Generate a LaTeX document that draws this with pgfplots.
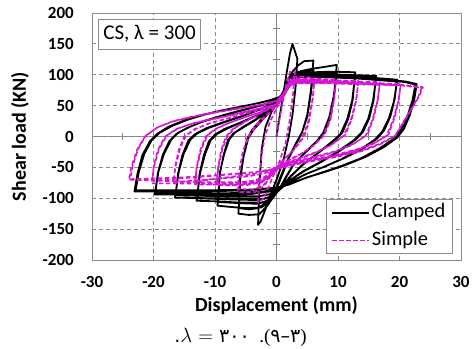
\documentclass[border=0pt]{standalone}
\usepackage{fontspec}
\usepackage{pgfplots}
\pgfplotsset{compat=1.18}
\setmainfont{Carlito}
\newfontfamily\arabicfont[Script=Arabic]{DejaVu Sans}
\newfontfamily\capserif{Liberation Serif}
\TeXXeTstate=1
\definecolor{simplemag}{RGB}{215,20,215}
\definecolor{gridgray}{RGB}{140,140,140}
\definecolor{axgray}{RGB}{128,128,128}
\begin{document}
\begin{tikzpicture}
\useasboundingbox (-92bp,-89bp) rectangle (380bp,260bp);
% central axis lines with cross ticks
\begin{axis}[at={(0,0)}, anchor=south west, width=369bp, height=247bp, scale only axis,
  xmin=-30, xmax=30, ymin=-200, ymax=200,
  axis lines=middle, axis line style={-, draw=axgray, line width=0.9bp},
  xtick={-25,-20,...,25}, ytick={-175,-150,...,175},
  xticklabels={}, yticklabels={},
  tick align=center, major tick length=7bp,
  tick style={draw=axgray, line width=0.9bp}]
\end{axis}
\begin{axis}[at={(0,0)}, anchor=south west, width=369bp, height=247bp, scale only axis,
  xmin=-30, xmax=30, ymin=-200, ymax=200,
  xtick={-30,-20,...,30}, ytick={-200,-150,...,200},
  grid=major, major grid style={draw=gridgray, dash pattern=on 4bp off 3bp, line width=0.8bp},
  axis line style={draw=gridgray, line width=0.9bp},
  major tick length=0pt,
  /pgf/number format/assume math mode=true,
  ticklabel style={font=\bfseries\fontsize{17bp}{17bp}\selectfont},
  xticklabel style={anchor=base, yshift=-27bp},
  yticklabel style={anchor=east, inner sep=0pt, xshift=-18bp},
  xlabel={Displacement (mm)}, ylabel={Shear load (KN)},
  label style={font=\bfseries\fontsize{20bp}{20bp}\selectfont},
  xlabel style={at={(axis description cs:0.5,-0.2105)}, anchor=base},
  ylabel style={at={(axis description cs:-0.1951,0.5)}, anchor=center},
  legend cell align=left,
  legend image code/.code={\draw[#1] (0bp,0bp) -- (37bp,0bp);},
  legend style={at={(axis description cs:0.978,0.024)}, anchor=south east,
    draw=gridgray, line width=0.8bp, fill=white,
    font=\fontsize{20.5bp}{20.5bp}\selectfont,
    inner xsep=5bp, inner ysep=2bp, row sep=6bp,
    nodes={inner sep=2bp, text height=14bp, text depth=4bp}},
]
\addplot[black, line width=1.8bp, line join=round] coordinates {
(0,0) (0.8,50) (1.6,100) (2.2,135) (2.6,150) (3.0,138) (3.4,126)
(3.1,80) (2.6,35) (2,0) (1.2,-35) (0.2,-65) (-0.8,-90) (-1.8,-118) (-2.6,-138) (-3,-143)
(-2.8,-80) (-2.4,-20) (-1.8,15) (-0.8,40) (0.3,58) (1.2,75) (2,95) (2.6,105) (3.5,115) (4.5,122) (6,123)
(5.6,75) (5,35) (4.2,8) (3.3,-10) (2,-35) (1,-60) (0,-85) (-1.3,-110) (-2.8,-126) (-4.5,-127) (-6.2,-125)
(-5.9,-65) (-5.3,-30) (-4.6,-3) (-3.8,10) (-2.3,27) (-0.8,43) (0.2,54) (1.1,68) (1.9,86) (2.6,98) (4,104) (6,108)
(5.6,70) (5,32) (4.1,5) (3.1,-12) (1.8,-38) (0.8,-62) (-0.2,-86) (-1.5,-106) (-3,-116) (-4.5,-118) (-6.1,-116)
(-5.9,-70) (-5.4,-35) (-4.8,-5) (-4,10) (-2.5,28) (-1,45) (0,56) (1,70) (1.8,88) (2.5,100) (4,106) (6,110) (8,113) (9.8,116)
(9.4,70) (8.8,35) (7.9,8) (6.8,-6) (4.8,-25) (2.8,-45) (1.8,-62) (0.5,-85) (-1,-105) (-2.5,-115) (-5,-116) (-7.5,-114) (-9.6,-112)
(-9.2,-58) (-8.5,-28) (-7.7,-5) (-6.8,6) (-5.2,16) (-3.2,28) (-1.2,43) (0.2,55) (1.1,67) (1.9,84) (2.6,97) (5,101) (8,103) (9.8,104)
(9.3,65) (8.6,32) (7.6,6) (6.5,-8) (4.5,-27) (2.6,-48) (1.5,-66) (0.3,-88) (-1.2,-103) (-3,-109) (-6,-108) (-9.5,-106)
(-9.2,-60) (-8.6,-30) (-7.9,-6) (-7,5) (-5.5,15) (-3.5,27) (-1.5,42) (0,54) (1,66) (1.8,82) (2.5,97) (3,101) (6,104) (9,105) (12.8,104)
(12.4,60) (11.7,30) (10.7,6) (9.6,-5) (7,-25) (4.5,-44) (2.3,-64) (0.8,-82) (-0.8,-100) (-2.2,-107) (-6,-107) (-10,-105) (-13,-104)
(-12.4,-58) (-11.6,-28) (-10.7,-6) (-9.7,4) (-8,13) (-5.6,23) (-3.2,34) (-1.2,46) (0.2,56) (1.2,67) (2,83) (2.7,96) (6,99) (9.5,100) (12.8,99)
(12.3,58) (11.5,28) (10.4,4) (9.2,-7) (6.7,-27) (4.2,-46) (2.2,-66) (0.6,-84) (-1,-98) (-3,-103) (-7,-102) (-12.9,-100)
(-12.5,-60) (-11.8,-30) (-11,-8) (-10,3) (-8.5,12) (-6,22) (-3.5,33) (-1.5,45) (0,55) (1,65) (1.8,80) (2.5,95) (3,100) (7,101) (11,100) (14,99) (16.2,98)
(15.8,60) (15.1,30) (14.1,8) (13,-4) (10.5,-22) (7.5,-40) (4.5,-56) (2.3,-70) (1,-82) (-0.5,-95) (-2,-101) (-6,-101) (-11,-100) (-16.5,-99)
(-15.9,-57) (-15.1,-28) (-14,-5) (-12.9,5) (-11,14) (-8.5,23) (-5.5,33) (-2.6,44) (-0.7,53) (0.7,61) (1.6,74) (2.4,91) (3.2,96) (8,97) (13,95) (16.2,94)
(15.7,58) (14.9,28) (13.8,6) (12.6,-6) (10,-24) (7,-42) (4.2,-57) (2.2,-71) (0.8,-83) (-0.8,-93) (-3,-97) (-8,-97) (-16.4,-95)
(-16,-60) (-15.3,-30) (-14.3,-6) (-13.2,4) (-11.5,13) (-9,22) (-6,32) (-3,43) (-1,52) (0.5,60) (1.5,73) (2.3,92) (3,98) (8,99) (13,97) (17,94) (19.6,92)
(19.2,60) (18.5,32) (17.5,10) (16.4,-3) (14,-20) (11,-35) (8,-48) (5,-60) (2.3,-73) (1,-82) (-1,-89) (-4,-93) (-10,-95) (-15,-94) (-19.8,-94)
(-19.2,-57) (-18.3,-28) (-17.1,-5) (-16,6) (-14,16) (-11.5,26) (-8.5,35) (-5.5,43) (-2.6,50) (-0.7,56) (0.7,63) (1.7,76) (2.4,92) (3.2,96) (8,96) (13,94) (17,91) (19.6,89)
(19.1,57) (18.3,30) (17.2,8) (16,-5) (13.5,-22) (10.5,-37) (7.5,-50) (4.5,-62) (2.2,-75) (0.6,-84) (-2,-89) (-8,-92) (-14,-92) (-19.7,-91)
(-19.3,-60) (-18.5,-30) (-17.4,-7) (-16.3,4) (-14.5,14) (-12,24) (-9,33) (-6,41) (-3,49) (-1,55) (0.5,62) (1.5,74) (2.3,92) (3,97) (8,98) (13,96) (18,92) (21,89) (22.8,85)
(22.4,60) (21.7,35) (20.7,12) (19.6,-2) (17.5,-17) (14.5,-33) (11,-47) (8,-57) (5,-66) (2.2,-77) (0.5,-82) (-3,-86) (-8,-88) (-14,-89) (-20,-89) (-23.1,-89)
(-22.6,-60) (-21.8,-30) (-20.6,-8) (-19.3,5) (-17.5,16) (-15,26) (-12,35) (-9,42) (-6,48) (-3,54) (-1,59) (0.5,64) (1.5,75) (2.3,92) (3,97) (8,97) (13,95) (18,91) (21,88) (22.6,84)
(22.1,58) (21.3,33) (20.2,10) (19,-4) (16.8,-19) (13.8,-35) (10.5,-48) (7.5,-58) (4.5,-68) (2,-78) (0,-83) (-4,-86) (-10,-87) (-16,-87) (-22.9,-87)
(-22.4,-58) (-21.5,-28) (-20.3,-6) (-19,6) (-17,17) (-14.5,27) (-11.5,36) (-8.5,43) (-5.5,49) (-2.5,55) (-0.5,60) (1,66) (2,80) (2.8,90)
};
\addlegendentry{Clamped}
\addplot[simplemag, line width=1.6bp, dash pattern=on 4.5bp off 2.5bp, line join=round] coordinates {
(0,0) (0.8,45) (1.6,85) (2.2,105) (3,105)
(2.7,70) (2.2,30) (1.5,-10) (0.5,-40) (-0.8,-70) (-2,-100) (-3,-107)
(-2.8,-70) (-2.4,-30) (-1.9,0) (-1,25) (0,45) (1,65) (1.8,88) (2.6,97) (4,97) (6.2,95)
(5.9,60) (5.3,25) (4.5,0) (3,-20) (1.5,-35) (0.3,-48) (-0.8,-62) (-2,-80) (-3.5,-90) (-5,-91) (-6.3,-90)
(-6,-52) (-5.4,-22) (-4.4,2) (-3.2,18) (-1.7,33) (-0.3,46) (0.7,57) (1.5,73) (2.2,87) (3,92) (5,91) (6.2,90)
(5.8,57) (5.1,22) (4.2,-2) (2.7,-22) (1.2,-37) (0,-50) (-1,-64) (-2.2,-80) (-4,-86) (-6.2,-85)
(-6,-55) (-5.5,-25) (-4.6,0) (-3.5,17) (-2,32) (-0.5,45) (0.5,56) (1.3,72) (2,88) (2.8,94) (5,94) (7.5,93) (9.7,92)
(9.4,60) (8.8,28) (7.8,2) (6,-15) (4,-28) (2,-38) (0.4,-47) (-0.8,-57) (-2,-66) (-4,-72) (-7,-76) (-9.8,-78)
(-9.4,-48) (-8.8,-20) (-7.9,2) (-6.7,14) (-4.7,26) (-2.7,37) (-0.7,47) (0.5,56) (1.4,71) (2.2,86) (3.1,90) (6,90) (9.7,89)
(9.3,57) (8.6,25) (7.5,0) (5.7,-17) (3.7,-30) (1.7,-40) (0.1,-49) (-1,-62) (-2.3,-74) (-5,-79) (-9.7,-79)
(-9.5,-50) (-9,-22) (-8.2,0) (-7,13) (-5,25) (-3,36) (-1,46) (0.3,55) (1.2,70) (2,86) (3,92) (6,92) (10,91) (13.3,90)
(13,60) (12.3,30) (11.2,3) (9,-13) (6.5,-25) (4,-34) (1.8,-42) (0.2,-49) (-1.5,-55) (-4,-61) (-8,-66) (-11,-70) (-13.3,-74)
(-12.9,-48) (-12.2,-20) (-11.2,2) (-9.7,13) (-7.7,22) (-5.2,31) (-2.7,39) (-0.7,47) (0.5,55) (1.4,69) (2.2,85) (3.1,89) (8,88) (13.3,87)
(12.9,57) (12.1,27) (10.9,1) (8.7,-15) (6.2,-27) (3.7,-36) (1.5,-44) (0,-51) (-1.2,-64) (-2.7,-74) (-6,-78) (-13.2,-78)
(-13,-50) (-12.4,-22) (-11.5,0) (-10,12) (-8,21) (-5.5,30) (-3,38) (-1,46) (0.3,54) (1.2,68) (2,85) (3,90) (8,90) (13,89) (16.8,88)
(16.5,60) (15.8,30) (14.8,3) (12.5,-12) (9.5,-24) (6.5,-32) (3.5,-39) (1,-46) (-0.5,-54) (-2,-60) (-5,-65) (-9,-68) (-13,-71) (-16.8,-74)
(-16.4,-48) (-15.7,-20) (-14.7,2) (-13,13) (-10.7,22) (-7.7,30) (-4.7,38) (-1.7,46) (0.2,53) (1.3,67) (2.2,83) (3.2,87) (8,87) (14,86) (16.8,85)
(16.4,57) (15.6,27) (14.5,1) (12.2,-14) (9.2,-26) (6.2,-34) (3.2,-41) (0.8,-48) (-0.7,-57) (-2,-71) (-5,-76) (-10,-77) (-16.7,-76)
(-16.5,-50) (-15.9,-22) (-15,0) (-13.3,12) (-11,21) (-8,29) (-5,37) (-2,45) (0,52) (1.1,66) (2,84) (3,89) (8,89) (14,87) (20.2,85)
(19.9,60) (19.2,30) (18.2,3) (16,-10) (13,-21) (9.5,-30) (6,-37) (3,-43) (0.7,-48) (-0.6,-58) (-2,-70) (-5,-75) (-11,-76) (-16,-76) (-20.3,-76)
(-19.9,-48) (-19.1,-20) (-17.8,2) (-16,13) (-13.7,21) (-10.7,28) (-7.7,34) (-4.7,41) (-1.7,48) (0.2,53) (1.2,66) (2.1,82) (3.1,86) (9,86) (15,84) (20.2,83)
(19.8,57) (19,28) (17.9,1) (15.7,-12) (12.7,-23) (9.2,-32) (5.7,-39) (2.7,-45) (0.5,-50) (-0.8,-53) (-3,-57) (-7,-61) (-12,-65) (-17,-69) (-20.2,-72)
(-20,-50) (-19.3,-22) (-18.1,0) (-16.3,12) (-14,20) (-11,27) (-8,33) (-5,40) (-2,47) (0,52) (1.1,65) (2,83) (3,88) (9,88) (15,86) (20,84) (23.8,80)
(23.2,65) (22,45) (20.5,20) (19.4,2) (17,-11) (14,-22) (10,-31) (6,-38) (3,-44) (0.5,-50) (-0.8,-62) (-2,-70) (-6,-74) (-12,-74) (-18,-72) (-24,-70)
(-23.6,-50) (-22.7,-22) (-21.4,0) (-19.5,14) (-17,24) (-14,31) (-11,37) (-8,42) (-5,47) (-2,52) (0,57) (1,68) (2,82) (3,87) (9,87) (15,85) (20,83) (23.6,79)
(23,63) (21.8,43) (20.3,18) (19.2,0) (16.8,-13) (13.8,-24) (9.8,-33) (5.8,-40) (2.8,-46) (0.3,-52) (-1,-55) (-4,-58) (-9,-62) (-15,-66) (-20,-68) (-23.8,-69)
(-23.4,-48) (-22.5,-20) (-21.2,2) (-19.3,15) (-16.8,25) (-13.8,32) (-10.8,38) (-7.8,43) (-4.8,48) (-1.8,53) (0,58) (1,68) (1.8,80)
};
\addlegendentry{Simple}
\node[draw=gridgray, line width=0.8bp, fill=white, anchor=north west,
  inner xsep=5bp, inner ysep=6bp, text height=14bp, text depth=4bp,
  font=\fontsize{21bp}{21bp}\selectfont]
  at ([shift={(6bp,-6bp)}]rel axis cs:0,1) {CS, λ = 300};
\end{axis}
\node[anchor=center, font=\capserif\fontsize{19bp}{19bp}\selectfont] at (148.5bp,-77bp)
  {\beginR)\arabicfont ٣–٩\capserif.(\ \ \beginL\arabicfont ٣٠٠\endL{} $=$ $\lambda$.\endR};
\end{tikzpicture}
\end{document}
